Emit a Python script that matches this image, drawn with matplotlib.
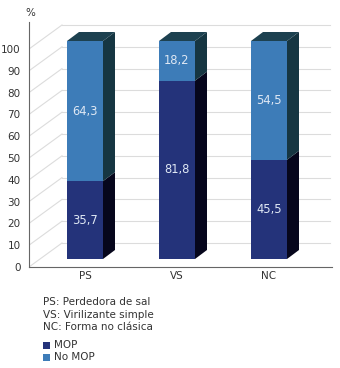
import matplotlib
matplotlib.use("Agg")
import matplotlib.pyplot as plt
from matplotlib.patches import Polygon, Rectangle

# --- data ---
categories = ["PS", "VS", "NC"]
mop = [35.7, 81.8, 45.5]
no_mop = [64.3, 18.2, 54.5]
yticks = list(range(0, 101, 10))
notes = ["PS: Perdedora de sal", "VS: Virilizante simple", "NC: Forma no clásica"]
legend_labels = ["MOP", "No MOP"]

# --- style ---
c_mop = "#24337a"
c_mop_side = "#06061c"
c_no = "#3d7cb8"
c_no_side = "#163642"
c_top = "#1d4150"
c_grid = "#dcdcdc"
c_axis = "#666666"
fs = 7.5

W, H = 340, 368
fig = plt.figure(figsize=(W / 100, H / 100), dpi=100)

# axes in pixel layout: floor line at y=267, left spine at x=29
px_per_unit = 2.18
x_step = 92.0
ax_left, ax_right, ax_bottom, ax_top = 29, 332, 267, 10
ax = fig.add_axes([ax_left / W, (H - ax_bottom) / H,
                   (ax_right - ax_left) / W, (ax_bottom - ax_top) / H])
x0 = (ax_left - 85) / x_step
x1 = (ax_right - 85) / x_step
ax.set_xlim(x0, x1)
ax.set_ylim(0, (ax_bottom - ax_top) / px_per_unit)

# 3D offsets (data units)
wall_dx, wall_dy = 33 / x_step, 24 / px_per_unit
front_dy = 8 / px_per_unit
bar_dx, bar_dy = 12 / x_step, 9 / px_per_unit
bar_w = 36 / x_step

# back wall grid + diagonals
for v in yticks:
    ax.plot([x0 + wall_dx, (330 - 85) / x_step], [v + wall_dy, v + wall_dy],
            color=c_grid, lw=0.8, zorder=1)
    ax.plot([x0, x0 + wall_dx], [v, v + wall_dy], color=c_grid, lw=0.8, zorder=1)

# bars
xs = list(range(len(categories)))
ax.bar(xs, mop, width=bar_w, bottom=front_dy, color=c_mop, zorder=3)
ax.bar(xs, no_mop, width=bar_w, bottom=[front_dy + m for m in mop], color=c_no, zorder=3)

for x, m, n in zip(xs, mop, no_mop):
    r = x + bar_w / 2
    l = x - bar_w / 2
    segs = [(front_dy, front_dy + m, c_mop_side), (front_dy + m, front_dy + m + n, c_no_side)]
    for b, t, col in segs:
        ax.add_patch(Polygon([(r, b), (r + bar_dx, b + bar_dy), (r + bar_dx, t + bar_dy), (r, t)],
                             closed=True, facecolor=col, edgecolor="none", zorder=2.5))
    t = front_dy + m + n
    ax.add_patch(Polygon([(l, t), (l + bar_dx, t + bar_dy), (r + bar_dx, t + bar_dy), (r, t)],
                         closed=True, facecolor=c_top, edgecolor="none", zorder=2.5))
    ax.text(x, front_dy + m / 2, f"{m:.1f}".replace(".", ","), ha="center", va="center",
            color="#dfe8f4", fontsize=fs + 0.8, zorder=4)
    ax.text(x, front_dy + m + n / 2, f"{n:.1f}".replace(".", ","), ha="center", va="center",
            color="#dfe8f4", fontsize=fs + 0.8, zorder=4)

# axes styling
for s in ["top", "right"]:
    ax.spines[s].set_visible(False)
ax.spines["left"].set_color(c_axis)
ax.spines["bottom"].set_color(c_axis)
ax.spines["left"].set_bounds(0, (ax_bottom - 22) / px_per_unit)
ax.set_yticks(yticks)
ax.set_yticklabels([str(v) for v in yticks])
ax.set_yticks([0], minor=True)
ax.set_xticks(xs)
ax.set_xticklabels(categories)
ax.tick_params(axis="y", length=0, pad=6, labelsize=fs, colors="#333333")
ax.tick_params(axis="y", which="minor", length=3, width=0.8, color=c_axis)
ax.tick_params(axis="x", length=0, pad=3, labelsize=fs, colors="#333333")
ax.patch.set_alpha(0)

fig.text(30 / W, 1 - 13 / H, "%", ha="center", va="center", fontsize=fs, color="#333333")

# notes
for i, s in enumerate(notes):
    fig.text(43 / W, 1 - (302 + i * 12.5) / H, s, ha="left", va="center",
             fontsize=fs, color="#333333")

# legend
for i, (lab, col) in enumerate(zip(legend_labels, [c_mop, c_no])):
    yc = 345 + i * 12.5
    fig.patches.append(Rectangle((43 / W, 1 - (yc + 3.5) / H), 7 / W, 7 / H,
                                 transform=fig.transFigure, facecolor=col, edgecolor="none"))
    fig.text(54 / W, 1 - yc / H, lab, ha="left", va="center", fontsize=fs, color="#333333")

fig.savefig("out.png", dpi=100)
